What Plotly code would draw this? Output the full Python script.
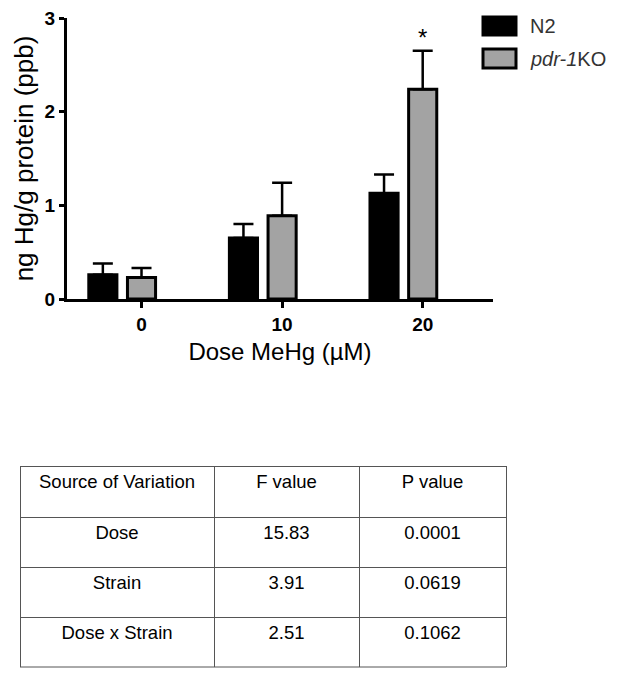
import plotly.graph_objects as go

# ---- data ----
doses = ["0", "10", "20"]
n2_mean = [0.26, 0.65, 1.13]
n2_err = [0.12, 0.15, 0.20]
pdr_mean = [0.23, 0.89, 2.24]
pdr_err = [0.10, 0.35, 0.41]
sig_labels = ["", "", "*"]

table_header = ["Source of Variation", "F value", "P value"]
sources = ["Dose", "Strain", "Dose x Strain"]
f_values = ["15.83", "3.91", "2.51"]
p_values = ["0.0001", "0.0619", "0.1062"]

# page body has an 8px margin on every side; size the figure to fit the window
OFF = 8
W, H = 624 - 2 * OFF, 676 - 2 * OFF
def px(x):
    return min(1, max(0, (x - OFF) / W))
def py(y):
    return min(1, max(0, 1 - (y - OFF) / H))

xpos = list(range(len(doses)))
FONT = "Liberation Sans, Arial, sans-serif"

fig = go.Figure()
fig.add_trace(go.Bar(
    x=xpos, y=n2_mean, name="N2", width=0.2, offset=-0.375,
    marker=dict(color="black", line=dict(color="black", width=3)),
    error_y=dict(type="data", array=n2_err, arrayminus=[0] * 3, symmetric=False,
                 color="black", thickness=2.5, width=10),
    showlegend=False,
))
fig.add_trace(go.Bar(
    x=xpos, y=pdr_mean, name="pdr-1KO", width=0.2, offset=-0.1,
    marker=dict(color="#a3a3a3", line=dict(color="black", width=3)),
    error_y=dict(type="data", array=pdr_err, arrayminus=[0] * 3, symmetric=False,
                 color="black", thickness=2.5, width=10),
    showlegend=False,
))

for i, s in enumerate(sig_labels):
    if s:
        fig.add_annotation(x=xpos[i], y=pdr_mean[i] + pdr_err[i], text=s, showarrow=False,
                           yanchor="bottom", yshift=-2, font=dict(size=24, color="black", family=FONT))

# custom legend
leg = [("N2", "black", 17, 35), ("<i>pdr-1</i>KO", "#a3a3a3", 49, 68)]
for label, col, y0, y1 in leg:
    fig.add_shape(type="rect", xref="paper", yref="paper",
                  x0=px(483), x1=px(516), y0=py(y1), y1=py(y0),
                  fillcolor=col, line=dict(color="black", width=3))
    fig.add_annotation(xref="paper", yref="paper", x=px(528), y=py((y0 + y1) / 2),
                       text=label, showarrow=False, xanchor="left", yanchor="middle",
                       font=dict(size=20, color="#333333", family=FONT))

fig.add_trace(go.Table(
    domain=dict(x=[px(20), px(506)], y=[py(667.5), py(466)]),
    columnwidth=[194, 145, 147],
    header=dict(values=table_header, height=51, align="center",
                fill_color="white", line=dict(color="#555555", width=1),
                font=dict(size=18.5, color="black", family=FONT)),
    cells=dict(values=[sources, f_values, p_values], height=50, align="center",
               fill_color="white", line=dict(color="#555555", width=1),
               font=dict(size=18.5, color="black", family=FONT)),
))
# bottom border of the table (clipped by the table trace itself)
fig.add_shape(type="line", xref="paper", yref="paper",
              x0=px(20), x1=px(506), y0=py(667), y1=py(667),
              line=dict(color="#555555", width=1), layer="above")

fig.update_layout(
    width=W, height=H, margin=dict(l=0, r=0, t=0, b=0, autoexpand=False),
    plot_bgcolor="white", paper_bgcolor="white",
    barmode="overlay",
    xaxis=dict(domain=[px(67), px(493)], range=[-0.53, 2.5], automargin=False,
               tickvals=xpos, ticktext=doses, ticks="outside", ticklen=6, tickwidth=3,
               tickcolor="black", showline=True, linecolor="black", linewidth=3,
               showgrid=False, zeroline=False, ticklabeloverflow="allow",
               tickfont=dict(size=19, color="black", family=FONT, weight="bold"),
               title=dict(text="Dose MeHg (µM)", standoff=10,
                          font=dict(size=24, color="black", family=FONT))),
    yaxis=dict(domain=[py(299), py(18)], range=[0, 3], tickvals=[0, 1, 2, 3],
               automargin=False, ticklabeloverflow="allow",
               ticks="outside", ticklen=5, tickwidth=3, tickcolor="black",
               showline=True, linecolor="black", linewidth=3,
               showgrid=False, zeroline=False,
               tickfont=dict(size=19, color="black", family=FONT, weight="bold"),
               title=dict(text="ng Hg/g protein (ppb)", standoff=4,
                          font=dict(size=26, color="black", family=FONT))),
)

fig.write_html("out.html")
